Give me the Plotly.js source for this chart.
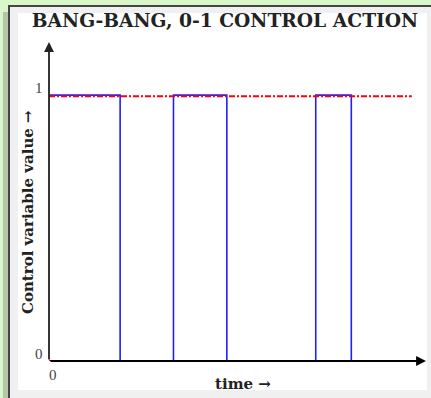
<!DOCTYPE html>
<html>
<head>
<meta charset="utf-8">
<script src="https://cdn.plot.ly/plotly-3.0.1.min.js"></script>
<style>
  html, body { margin:0; padding:0; width:431px; height:398px; overflow:hidden; background:#d9f7c9; }
  #strip { position:absolute; left:3px; top:12px; width:6px; height:386px; background:#b3c7a6; }
  #panel { position:absolute; left:8px; top:5px; width:421px; height:391px; background:#f0f0f0; border-left:2px solid #454545; border-top:2px solid #454545; }
  #white { position:absolute; left:18px; top:13px; width:409px; height:377px; background:#ffffff; }
  #chart { position:absolute; left:0; top:0; width:431px; height:398px; }
</style>
</head>
<body>
<div id="strip"></div>
<div id="panel"></div>
<div id="white"></div>
<div id="chart"></div>
<script>
// Bang-bang control signal: switching times and levels
const switchTimes = [0, 2, 3.5, 5, 7.5, 8.5, 10];
const controlLevels = [1, 0, 1, 0, 1, 0, 0];
// Bounds of the admissible control (red dash-dot lines)
const boundTimes = [0, 10.2, null, 0, 10.2];
const boundLevels = [0.996, 0.996, null, 0, 0];
// Axis tick labels
const yTickVals = [1, 0];
const yTickText = ['1', '0'];
const xTickVals = [0];
const xTickText = ['0'];
const titleText = 'BANG-BANG, 0-1 CONTROL ACTION';
const xTitleText = 'time →';
const yTitleText = 'Control variable value →';

const serif = 'DejaVu Serif, Liberation Serif, serif';

const traces = [
  { x: switchTimes, y: controlLevels, mode: 'lines', line: { shape: 'hv', color: '#1f1fff', width: 1.6 }, hoverinfo: 'skip' },
  { x: boundTimes, y: boundLevels, mode: 'lines', line: { color: '#ff0000', width: 2, dash: '6px,2px,2px,2px' }, connectgaps: false, hoverinfo: 'skip' }
];

const annotations = [
  // y axis with arrow
  { x: 0, y: 1.2, ax: 0, ay: 0, xref: 'x', yref: 'y', axref: 'x', ayref: 'y', text: '', showarrow: true,
    arrowhead: 2, arrowsize: 1.1, arrowwidth: 1.8, arrowcolor: '#222', standoff: 0 },
  // x axis with arrow
  { x: 10.6, y: 0, ax: 0, ay: 0, xref: 'x', yref: 'y', axref: 'x', ayref: 'y', text: '', showarrow: true,
    arrowhead: 2, arrowsize: 1.1, arrowwidth: 1.8, arrowcolor: '#000', standoff: 0 },
  // axis titles
  { x: -0.0557, y: 0.467, xref: 'paper', yref: 'paper', text: '<b>' + yTitleText + '</b>', showarrow: false,
    textangle: -90, xanchor: 'center', yanchor: 'middle', font: { family: serif, size: 15, color: '#222' } },
  { x: 0.515, y: -0.072, xref: 'paper', yref: 'paper', text: '<b>' + xTitleText + '</b>', showarrow: false,
    xanchor: 'center', yanchor: 'middle', font: { family: serif, size: 15, color: '#222' } }
];
yTickVals.forEach((v, i) => annotations.push({
  x: 0, y: v, xref: 'x', yref: 'y', text: yTickText[i], showarrow: false,
  xanchor: 'right', yanchor: 'bottom', xshift: -4, yshift: -3,
  font: { family: 'Liberation Serif, serif', size: 15, color: '#444' }
}));
xTickVals.forEach((v, i) => annotations.push({
  x: v, y: 0, xref: 'x', yref: 'y', text: xTickText[i], showarrow: false,
  xanchor: 'center', yanchor: 'top', xshift: 4, yshift: -4,
  font: { family: 'Liberation Serif, serif', size: 15, color: '#444' }
}));

const layout = {
  width: 431, height: 398,
  margin: { l: 49, r: 5, t: 42, b: 37 },
  paper_bgcolor: 'rgba(0,0,0,0)', plot_bgcolor: 'rgba(0,0,0,0)',
  showlegend: false,
  title: { text: '<b>' + titleText + '</b>', x: 0.522, xanchor: 'center', y: 0.948, yanchor: 'middle',
    font: { family: serif, size: 18.7, color: '#222' } },
  xaxis: { range: [0, 10.6], showgrid: false, zeroline: false, showline: false, showticklabels: false, ticks: '', fixedrange: true },
  yaxis: { range: [0, 1.2], showgrid: false, zeroline: false, showline: false, showticklabels: false, ticks: '', fixedrange: true },
  annotations: annotations
};

Plotly.newPlot('chart', traces, layout, { displayModeBar: false, staticPlot: true });
</script>
</body>
</html>
